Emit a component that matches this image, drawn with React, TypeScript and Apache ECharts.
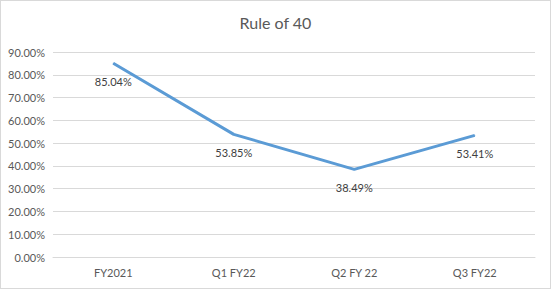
import React, { useEffect, useRef } from "react";
import * as echarts from "echarts";

const categories = ["FY2021", "Q1 FY22", "Q2 FY 22", "Q3 FY22"];
const ruleOf40 = [0.8504, 0.5385, 0.3849, 0.5341];
const titleText = "Rule of 40";

export default function App() {
  const ref = useRef<HTMLDivElement>(null);
  useEffect(() => {
    if (!ref.current) return;
    const chart = echarts.init(ref.current, null, { renderer: "svg" });
    const font = "Lato";
    chart.setOption({
      animation: false,
      title: {
        text: titleText,
        left: "center",
        top: 8,
        textStyle: { fontFamily: font, fontSize: 16, fontWeight: "normal", color: "#595959" },
      },
      grid: { left: 52, right: 15, top: 51, bottom: 31, containLabel: false },
      xAxis: {
        type: "category",
        data: categories,
        boundaryGap: true,
        axisTick: { show: false },
        axisLine: { lineStyle: { color: "#d9d9d9" } },
        axisLabel: { color: "#595959", fontFamily: font, fontSize: 11, margin: 10 },
      },
      yAxis: {
        type: "value",
        min: 0,
        max: 0.9,
        interval: 0.1,
        axisLine: { show: false },
        axisTick: { show: false },
        splitLine: { lineStyle: { color: "#d9d9d9" } },
        axisLabel: {
          color: "#595959",
          fontFamily: font,
          fontSize: 11,
          margin: 8,
          formatter: (v: number) => (v * 100).toFixed(2) + "%",
        },
      },
      series: [
        {
          type: "line",
          data: ruleOf40,
          symbol: "circle",
          symbolSize: 1,
          lineStyle: { color: "#5b9bd5", width: 3 },
          itemStyle: { color: "#5b9bd5" },
          label: {
            show: true,
            position: "bottom",
            distance: 12,
            color: "#404040",
            fontFamily: font,
            fontSize: 11,
            formatter: (p: any) => (p.value * 100).toFixed(2) + "%",
          },
        },
      ],
    });
    return () => chart.dispose();
  }, []);
  return (
    <div
      ref={ref}
      style={{
        position: "fixed",
        left: 0,
        top: 0,
        width: 551,
        height: 289,
        boxSizing: "border-box",
        border: "1px solid #d9d9d9",
        background: "#fff",
      }}
    />
  );
}
